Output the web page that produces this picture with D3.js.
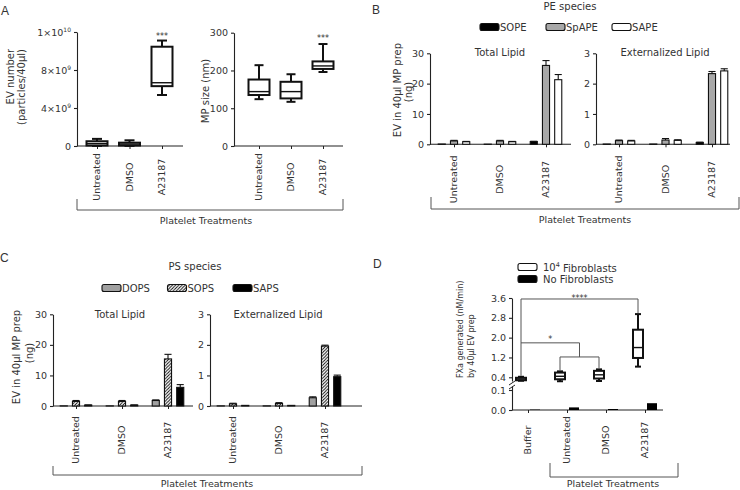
<!DOCTYPE html>
<html><head><meta charset="utf-8">
<script src="https://cdn.jsdelivr.net/npm/d3@7/dist/d3.min.js"></script>
<style>body{margin:0;background:#fff}svg{display:block}</style>
</head><body><svg id="c" width="740" height="490"></svg>
<script>
// ---------------- DATA ----------------
const treatments = ["Untreated", "DMSO", "A23187"];
// Panel A  (box stats: min, q1, median, q3, max)
const evNumberStats = [[0.01e9, 0.05e9, 0.25e9, 0.5e9, 0.75e9], [0.01e9, 0.05e9, 0.2e9, 0.35e9, 0.6e9], [5.37e9, 6.3e9, 6.66e9, 10.45e9, 11.1e9]];
const evNumberTicks = [0, 4e9, 8e9, 1.2e10];
const evNumberTickLabels = [["0", ""], ["4×10", "9"], ["8×10", "9"], ["1×10", "10"]];
const mpSizeStats = [[124, 135, 144, 176, 214], [117, 126, 144, 170, 190], [196, 204, 212, 224, 270]];
const mpSizeTicks = [0, 100, 200, 300];
const sigA = ["***", "***"];
// Panel B
const peSpecies = ["SOPE", "SpAPE", "SAPE"];
const peTotal = [[0.1, 1.1, 0.85], [0.05, 1.1, 0.85], [0.9, 26.0, 21.3]];
const peTotalErr = [[0, 0.2, 0.1], [0, 0.2, 0.1], [0.1, 1.6, 1.7]];
const peExt = [[0.01, 0.12, 0.11], [0.01, 0.14, 0.13], [0.06, 2.33, 2.42]];
const peExtErr = [[0, 0.02, 0.02], [0, 0.05, 0.02], [0.01, 0.07, 0.07]];
// Panel C
const psSpecies = ["DOPS", "SOPS", "SAPS"];
const psTotal = [[0.05, 1.5, 0.3], [0.05, 1.5, 0.3], [1.8, 15.4, 6.1]];
const psTotalErr = [[0, 0.3, 0.05], [0, 0.3, 0.05], [0.2, 1.5, 0.9]];
const psExt = [[0.005, 0.07, 0.02], [0.005, 0.08, 0.02], [0.27, 1.96, 0.96]];
const psExtErr = [[0, 0.02, 0], [0, 0.03, 0], [0.03, 0.03, 0.05]];
const lipidTotalTicks = [0, 10, 20, 30];
const lipidExtTicks = [0, 1, 2, 3];
// Panel D
const fxaCategories = ["Buffer", "Untreated", "DMSO", "A23187"];
const fxaFibroStats = [[0.26, 0.28, 0.33, 0.38, 0.42], [0.24, 0.32, 0.44, 0.59, 0.64], [0.25, 0.35, 0.5, 0.66, 0.72], [0.83, 1.18, 1.6, 2.32, 2.95]];
const fxaNoFibro = [0.002, 0.013, 0.005, 0.034];
const fxaUpperTicks = [0.4, 1.2, 2.0, 2.8, 3.6];
const fxaLowerTicks = [0.0, 0.1];
const fxaSigLevels = [3.56, 1.79, 1.22];
const fxaSigLabels = ["****", "*"];

// ---------------- DRAWING ----------------
const F = "DejaVu Sans";
const AX = "#222", TX = "#333", BR = "#555";
const svg = d3.select("#c");
const defs = svg.append("defs");
const pat = defs.append("pattern").attr("id", "hatch").attr("patternUnits", "userSpaceOnUse").attr("width", 3.2).attr("height", 3.2);
pat.append("rect").attr("width", 3.2).attr("height", 3.2).attr("fill", "#fff");
pat.append("path").attr("d", "M-0.8,0.8 L0.8,-0.8 M0,3.2 L3.2,0 M2.4,4 L4,2.4").attr("stroke", "#000").attr("stroke-width", 0.9);

function text(x, y, s, size, anchor, opt = {}) {
  const t = svg.append("text").attr("x", x).attr("y", y).attr("font-family", opt.fam || F)
    .attr("font-size", size).attr("fill", TX).attr("text-anchor", anchor || "start").text(s);
  if (opt.rot) t.attr("transform", `rotate(-90,${x},${y})`);
  if (opt.dy) t.attr("dy", opt.dy);
  return t;
}

function yAxis(x, scale, ticks, fmt) {
  const ax = d3.axisLeft(scale).tickValues(ticks).tickSize(3).tickSizeOuter(0).tickPadding(3)
    .tickFormat(fmt || d3.format("d"));
  const a = svg.append("g").attr("transform", `translate(${x},0)`).call(ax)
    .attr("font-family", F).attr("font-size", 9.5).attr("color", AX);
  a.selectAll("path,line").attr("stroke-width", 1.1);
  a.selectAll("text").attr("fill", TX);
  return a;
}

function xAxis(scale, y, x0, x1, offset) {
  svg.append("line").attr("x1", x0).attr("x2", x1).attr("y1", y).attr("y2", y).attr("stroke", AX).attr("stroke-width", 1.1);
  const a = svg.append("g").attr("transform", `translate(0,${y})`)
    .call(d3.axisBottom(scale).tickSize(3).tickSizeOuter(0).tickFormat("")).attr("color", AX);
  a.select(".domain").remove();
  svg.append("g").selectAll("text").data(scale.domain()).join("text")
    .attr("transform", d => `translate(${scale(d)},${y + offset}) rotate(-90)`)
    .attr("text-anchor", "middle").attr("dy", "0.35em").attr("font-family", F).attr("font-size", 9.5)
    .attr("fill", TX).text(d => d);
}

function bracket(x0, x1, y, h, tx, ty) {
  svg.append("path").attr("d", `M${x0},${y - h}V${y}H${x1}V${y - h}`).attr("fill", "none").attr("stroke", BR).attr("stroke-width", 1);
  text(tx, ty, "Platelet Treatments", 9.5, "middle");
}

function boxes(xs, ys, stats, cats, o) {
  const g = svg.append("g");
  cats.forEach((c, i) => {
    const [mn, q1, md, q3, mx] = stats[i];
    const cx = xs(c) + (o.off || 0);
    g.append("line").attr("x1", cx).attr("x2", cx).attr("y1", ys(mn)).attr("y2", ys(mx)).attr("stroke", "#111").attr("stroke-width", o.sw);
    [mn, mx].forEach(v => g.append("line").attr("x1", cx - o.cap / 2).attr("x2", cx + o.cap / 2).attr("y1", ys(v)).attr("y2", ys(v)).attr("stroke", "#111").attr("stroke-width", o.sw));
    g.append("rect").attr("x", cx - o.w / 2).attr("width", o.w).attr("y", ys(q3)).attr("height", ys(q1) - ys(q3))
      .attr("fill", o.fill || "#fff").attr("stroke", "#111").attr("stroke-width", o.sw);
    g.append("line").attr("x1", cx - o.w / 2).attr("x2", cx + o.w / 2).attr("y1", ys(md)).attr("y2", ys(md)).attr("stroke", "#111").attr("stroke-width", o.sw * 0.7);
  });
}

function groupedBars(xs, ys, vals, errs, species, fills) {
  const sub = d3.scaleBand().domain(species).range([-17, 17]).paddingInner(0.42).paddingOuter(0.1);
  const bw = sub.bandwidth();
  const data = [];
  treatments.forEach((t, i) => species.forEach((s, j) => data.push({ t, s, j, v: vals[i][j], e: errs[i][j] })));
  const g = svg.append("g");
  g.selectAll("rect").data(data).join("rect")
    .attr("x", d => xs(d.t) + sub(d.s)).attr("width", bw)
    .attr("y", d => ys(d.v)).attr("height", d => ys(0) - ys(d.v))
    .attr("fill", d => fills[d.j]).attr("stroke", "#111").attr("stroke-width", 1.1);
  const eg = g.selectAll("g.err").data(data.filter(d => d.e > 0)).join("g");
  eg.append("line").attr("x1", d => xs(d.t) + sub(d.s) + bw / 2).attr("x2", d => xs(d.t) + sub(d.s) + bw / 2)
    .attr("y1", d => ys(d.v)).attr("y2", d => ys(d.v + d.e)).attr("stroke", "#111").attr("stroke-width", 1.1);
  eg.append("line").attr("x1", d => xs(d.t) + sub(d.s)).attr("x2", d => xs(d.t) + sub(d.s) + bw)
    .attr("y1", d => ys(d.v + d.e)).attr("y2", d => ys(d.v + d.e)).attr("stroke", "#111").attr("stroke-width", 1.1);
}

function legend(x0, step, y, names, fills) {
  names.forEach((n, i) => {
    const x = x0 + i * step;
    svg.append("rect").attr("x", x).attr("y", y - 3.5).attr("width", 19).attr("height", 7).attr("rx", 2)
      .attr("fill", fills[i]).attr("stroke", "#111").attr("stroke-width", 1.1);
    text(x + 20, y, n, 10, "start", { dy: "0.35em" });
  });
}

function supLabels(axisG, labels) {
  axisG.selectAll(".tick text").each(function (d, i) {
    const t = d3.select(this).text(null);
    t.append("tspan").text(labels[i][0]);
    if (labels[i][1]) t.append("tspan").attr("font-size", 6).attr("dy", "-0.6em").text(labels[i][1]);
  });
}

// Panel letters
text(1, 15, "A", 12, "start", { fam: "Liberation Sans" });
text(372, 14, "B", 12, "start", { fam: "Liberation Sans" });
text(0, 262, "C", 12, "start", { fam: "Liberation Sans" });
text(373, 268, "D", 12, "start", { fam: "Liberation Sans" });

// ===== Panel A left: EV number =====
{
  const ys = d3.scaleLinear().domain([0, 1.2e10]).range([146, 32]);
  const xs = d3.scalePoint().domain(treatments).range([97, 162]);
  const a = yAxis(77, ys, evNumberTicks);
  supLabels(a, evNumberTickLabels);
  xAxis(xs, 146, 77, 183, 31);
  boxes(xs, ys, evNumberStats, treatments, { w: 21, cap: 10, sw: 2 });
  text(xs("A23187"), ys(evNumberStats[2][4]) - 2, sigA[0], 8, "middle");
  text(14, 49, "EV number", 10, "end", { rot: true });
  text(25, 49, "(particles/40µl)", 10, "end", { rot: true });
}
// ===== Panel A right: MP size =====
{
  const ys = d3.scaleLinear().domain([0, 300]).range([146, 32.7]);
  const xs = d3.scalePoint().domain(treatments).range([259, 323]);
  yAxis(234, ys, mpSizeTicks);
  xAxis(xs, 146, 234, 343, 31);
  boxes(xs, ys, mpSizeStats, treatments, { w: 21, cap: 9, sw: 2 });
  text(xs("A23187"), ys(mpSizeStats[2][4]) - 3, sigA[1], 8, "middle");
  text(209, 91, "MP size (nm)", 10, "middle", { rot: true });
}
bracket(77, 343, 210, 11, 206, 224);

// ===== Panel B =====
const peFills = ["#000", "#a8a8a8", "#fff"];
text(570, 10, "PE species", 10, "middle");
legend(480, 66, 27, peSpecies, peFills);
{
  const ys = d3.scaleLinear().domain([0, 30]).range([144.3, 53.3]);
  const xs = d3.scalePoint().domain(treatments).range([454, 546]);
  yAxis(430, ys, lipidTotalTicks);
  xAxis(xs, 144.3, 430, 571, 35);
  groupedBars(xs, ys, peTotal, peTotalErr, peSpecies, peFills);
  text(500, 56, "Total Lipid", 10, "middle");
}
{
  const ys = d3.scaleLinear().domain([0, 3]).range([144.3, 53.3]);
  const xs = d3.scalePoint().domain(treatments).range([619, 712]);
  yAxis(596, ys, lipidExtTicks);
  xAxis(xs, 144.3, 596, 730, 35);
  groupedBars(xs, ys, peExt, peExtErr, peSpecies, peFills);
  text(665, 56, "Externalized Lipid", 10, "middle");
}
text(397, 90, "EV in 40µl MP prep", 10, "middle", { rot: true, dy: "0.35em" });
text(408, 92, "(ng)", 10, "middle", { rot: true, dy: "0.35em" });
bracket(431, 739, 209, 12, 585, 223);

// ===== Panel C =====
const psFills = ["#a0a0a0", "url(#hatch)", "#000"];
text(195, 270, "PS species", 10, "middle");
legend(102, 65.5, 288, psSpecies, psFills);
{
  const ys = d3.scaleLinear().domain([0, 30]).range([406, 314.3]);
  const xs = d3.scalePoint().domain(treatments).range([76, 168]);
  yAxis(53, ys, lipidTotalTicks);
  xAxis(xs, 406, 53, 193, 34);
  groupedBars(xs, ys, psTotal, psTotalErr, psSpecies, psFills);
  text(120, 318, "Total Lipid", 10, "middle");
}
{
  const ys = d3.scaleLinear().domain([0, 3]).range([406, 314.3]);
  const xs = d3.scalePoint().domain(treatments).range([233, 325]);
  yAxis(210, ys, lipidExtTicks);
  xAxis(xs, 406, 210, 362, 34);
  groupedBars(xs, ys, psExt, psExtErr, psSpecies, psFills);
  text(278, 318, "Externalized Lipid", 10, "middle");
}
text(16, 357, "EV in 40µl MP prep", 10, "middle", { rot: true, dy: "0.35em" });
text(29, 353, "(ng)", 10, "middle", { rot: true, dy: "0.35em" });
bracket(53, 362, 475, 9, 207, 487);

// ===== Panel D =====
{
  const yUp = d3.scaleLinear().domain([0.25, 3.6]).range([381, 298]);
  const yLo = d3.scaleLinear().domain([0, 0.12]).range([410, 386]);
  const xs = d3.scalePoint().domain(fxaCategories).range([528, 645]);
  yAxis(512, yUp, fxaUpperTicks, d3.format(".1f"));
  yAxis(512, yLo, fxaLowerTicks, d3.format(".1f"));
  svg.append("path").attr("d", "M509,389 L515,385 M509,385 L515,381").attr("stroke", AX).attr("stroke-width", 1);
  xAxis(xs, 410, 512, 663, 30);
  boxes(xs, yUp, fxaFibroStats, fxaCategories, { w: 10, cap: 6, sw: 2, off: -7 });
  svg.append("g").selectAll("rect").data(fxaCategories).join("rect")
    .attr("x", d => xs(d) + 2).attr("width", 10)
    .attr("y", (d, i) => yLo(fxaNoFibro[i])).attr("height", (d, i) => yLo(0) - yLo(fxaNoFibro[i]))
    .attr("fill", "#000");
  // significance brackets
  const bx = c => xs(c) - 7;
  const top = i => yUp(fxaFibroStats[i][4]);
  const L0 = yUp(fxaSigLevels[0]), L1 = yUp(fxaSigLevels[1]), L2 = yUp(fxaSigLevels[2]);
  const mid = (bx("Untreated") + bx("DMSO")) / 2;
  const p = d3.path();
  p.moveTo(bx("Buffer"), top(0) - 1); p.lineTo(bx("Buffer"), L0); p.lineTo(bx("A23187"), L0); p.lineTo(bx("A23187"), top(3) - 1);
  p.moveTo(bx("Buffer"), L1); p.lineTo(mid, L1); p.lineTo(mid, L2);
  p.moveTo(bx("Untreated"), top(1) - 1); p.lineTo(bx("Untreated"), L2); p.lineTo(bx("DMSO"), L2); p.lineTo(bx("DMSO"), top(2) - 1);
  svg.append("path").attr("d", p.toString()).attr("fill", "none").attr("stroke", BR).attr("stroke-width", 1);
  text((bx("Buffer") + bx("A23187")) / 2, L0 + 2, fxaSigLabels[0], 8, "middle");
  text((bx("Buffer") + mid) / 2, L1 - 1, fxaSigLabels[1], 8, "middle");
}
// legend D
svg.append("rect").attr("x", 518).attr("y", 263.5).attr("width", 19).attr("height", 7).attr("rx", 2).attr("fill", "#fff").attr("stroke", "#111").attr("stroke-width", 1.1);
svg.append("rect").attr("x", 518).attr("y", 275.5).attr("width", 19).attr("height", 7).attr("rx", 2).attr("fill", "#000").attr("stroke", "#111").attr("stroke-width", 1.1);
{
  const t = text(543, 267, "10", 10, "start", { dy: "0.35em" });
  t.append("tspan").attr("font-size", 6.5).attr("dy", "-0.55em").text("4");
  t.append("tspan").attr("dy", "0.55em").text(" Fibroblasts");
}
text(543, 279, "No  Fibroblasts", 10, "start", { dy: "0.35em" });
text(460, 378, "FXa generated (nM/min)", 8, "start", { rot: true, dy: "0.35em" });
text(471, 378, "by 40µl EV prep", 8, "start", { rot: true, dy: "0.35em" });
bracket(550, 678, 477, 14, 613, 487);
</script></body></html>
